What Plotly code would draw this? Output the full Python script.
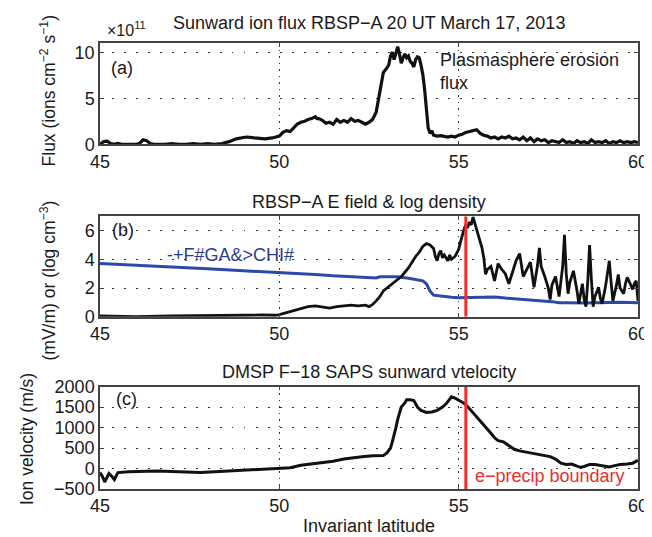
import plotly.graph_objects as go
from plotly.subplots import make_subplots

# ---------------- data ----------------
# Panel (a): sunward ion flux (x1e11 ions cm^-2 s^-1) vs invariant latitude
flux_lat = [45.0, 45.1, 45.2, 45.3, 45.4, 45.5, 45.6, 45.8, 46.0, 46.1, 46.2, 46.3, 46.4, 46.5,
            46.8, 47.0, 47.2, 47.4, 47.6, 47.8, 48.0, 48.2, 48.4, 48.6, 48.8, 49.0, 49.1, 49.3,
            49.6, 49.8, 50.0, 50.1, 50.2, 50.3, 50.4, 50.5, 50.6, 50.7, 50.8, 50.9, 51.0, 51.05,
            51.1, 51.2, 51.3, 51.4, 51.5, 51.6, 51.7, 51.8, 51.9, 52.0, 52.1, 52.2, 52.3, 52.4,
            52.5, 52.6, 52.7, 52.8, 52.9, 53.0, 53.05, 53.1, 53.15, 53.2, 53.25, 53.3, 53.35,
            53.4, 53.45, 53.5, 53.55, 53.6, 53.65, 53.7, 53.75, 53.8, 53.85, 53.9, 53.95, 54.0,
            54.05, 54.1, 54.15, 54.2, 54.25, 54.3, 54.4, 54.5, 54.6, 54.7, 54.8, 54.9, 55.0,
            55.1, 55.2, 55.3, 55.4, 55.5, 55.6, 55.7, 55.8, 55.9, 56.0, 56.1, 56.2, 56.3, 56.4,
            56.5, 56.6, 56.7, 56.8, 56.9, 57.0, 57.1, 57.2, 57.3, 57.4, 57.5, 57.6, 57.7, 57.8,
            57.9, 58.0, 58.1, 58.2, 58.3, 58.4, 58.5, 58.6, 58.7, 58.8, 58.9, 59.0, 59.1, 59.2,
            59.3, 59.4, 59.5, 59.6, 59.7, 59.8, 59.9, 60.0]
flux_val = [0.0, 0.3, 0.35, 0.1, 0.0, 0.1, 0.0, 0.0, 0.0, 0.1, 0.5, 0.4, 0.1, 0.0,
            0.0, 0.1, 0.0, 0.0, 0.1, 0.0, 0.1, 0.0, 0.1, 0.3, 0.6, 0.75, 0.8, 0.7,
            0.6, 0.7, 0.9, 1.3, 1.5, 1.4, 1.8, 2.2, 2.4, 2.5, 2.7, 2.8, 3.0, 2.8,
            2.8, 2.6, 2.3, 2.4, 2.2, 2.7, 2.4, 2.6, 2.4, 2.8, 2.5, 2.6, 2.4, 2.2,
            2.4, 2.7, 3.5, 5.5, 7.8, 8.3, 8.6, 9.6, 10.0, 9.2, 9.8, 10.6, 9.8,
            8.8, 9.4, 9.8, 9.4, 9.6, 9.0, 8.8, 8.4, 9.2, 9.5, 9.4, 8.6, 7.6,
            6.0, 3.7, 1.8, 1.2, 1.5, 1.0, 0.9, 0.95, 0.9, 0.8, 0.9, 0.8, 1.0,
            1.1, 1.3, 1.4, 1.5, 1.6, 1.2, 1.0, 0.9, 0.7, 0.8, 0.6, 0.8, 0.7, 0.9,
            0.6, 0.7, 0.5, 0.8, 0.4, 0.7, 0.3, 0.6, 0.4, 0.5, 0.2, 0.4, 0.3, 0.2,
            0.5, 0.2, 0.3, 0.1, 0.4, 0.2, 0.3, 0.1, 0.5, 0.2, 0.3, 0.2, 0.4, 0.1,
            0.3, 0.2, 0.4, 0.2, 0.3, 0.2, 0.3, 0.2]

# Panel (b): E field (mV/m), black
efield_lat = [45.0, 46.0, 47.0, 48.0, 48.5, 49.0, 49.5, 49.9, 50.0, 50.2, 50.4, 50.6, 50.8,
              51.0, 51.2, 51.4, 51.6, 51.8, 52.0, 52.2, 52.4, 52.5, 52.6, 52.7, 52.8, 52.9,
              53.0, 53.1, 53.2, 53.3, 53.4, 53.5, 53.6, 53.7, 53.8, 53.9, 54.0, 54.1, 54.2,
              54.3, 54.35, 54.4, 54.45, 54.5, 54.55, 54.6, 54.7, 54.75, 54.8, 54.9, 55.0,
              55.05, 55.1, 55.15, 55.2, 55.25, 55.3, 55.35, 55.4, 55.45, 55.5, 55.55, 55.6,
              55.65, 55.7, 55.75, 55.8, 55.9, 56.0, 56.05, 56.1, 56.2, 56.3, 56.4, 56.5,
              56.6, 56.7, 56.8, 56.9, 57.0, 57.1, 57.2, 57.25, 57.3, 57.4, 57.5, 57.55,
              57.6, 57.7, 57.8, 57.9, 57.95, 58.0, 58.05, 58.1, 58.2, 58.3, 58.35, 58.4,
              58.45, 58.5, 58.55, 58.6, 58.65, 58.7, 58.75, 58.8, 58.9, 58.95, 59.0, 59.1,
              59.2, 59.25, 59.3, 59.4, 59.45, 59.5, 59.6, 59.65, 59.7, 59.8, 59.85, 59.9,
              59.95, 60.0]
efield_val = [0.05, 0.0, 0.05, 0.05, 0.08, 0.1, 0.12, 0.1, 0.15, 0.3, 0.45, 0.6, 0.7,
              0.75, 0.65, 0.6, 0.7, 0.75, 0.8, 0.75, 0.8, 0.7, 0.85, 1.1, 1.4, 1.8,
              2.0, 2.2, 2.4, 2.6, 2.8, 3.1, 3.4, 3.8, 4.2, 4.5, 4.9, 5.1, 5.0,
              4.75, 4.2, 3.9, 4.4, 4.6, 4.1, 4.3, 3.9, 4.3, 4.0, 4.2, 4.7,
              5.2, 5.7, 6.1, 6.4, 6.2, 6.6, 6.4, 6.95, 6.5, 6.2, 5.8, 5.3,
              4.8, 4.1, 2.95, 3.3, 3.5, 2.5, 3.2, 3.7, 3.3, 3.0, 2.3, 3.1,
              3.9, 4.4, 2.8, 3.3, 3.8, 2.05, 3.6, 4.8, 3.5, 2.8, 2.0, 1.2,
              2.2, 2.8, 1.4, 3.5, 5.7, 3.0, 1.6, 2.4, 3.2, 1.8, 0.9, 1.6,
              2.3, 1.2, 0.7, 2.5, 5.0, 2.6, 0.7, 1.4, 2.05, 1.3, 0.9, 2.2,
              3.9, 2.4, 1.1, 2.2, 2.95, 2.0, 1.6, 2.3, 2.75, 2.2, 1.9, 2.3,
              2.5, 1.1]

# Panel (b): log density (log cm^-3), blue
dens_lat = [45.0, 46.0, 47.0, 48.0, 49.0, 50.0, 51.0, 51.5, 52.0, 52.5, 52.7, 52.8, 53.0,
            53.3, 53.6, 53.9, 54.0, 54.1, 54.2, 54.3, 54.5, 54.8, 55.0, 55.5, 56.0, 56.3,
            56.6, 57.0, 57.3, 57.6, 57.8, 58.0, 58.5, 59.0, 59.5, 60.0]
dens_val = [3.7, 3.6, 3.45, 3.35, 3.2, 3.1, 2.95, 2.85, 2.8, 2.75, 2.7, 2.78, 2.8,
            2.78, 2.68, 2.55, 2.5, 2.3, 1.8, 1.5, 1.42, 1.35, 1.32, 1.35, 1.38, 1.3,
            1.25, 1.2, 1.12, 1.05, 0.97, 0.98, 0.95, 0.98, 1.0, 0.97]

# Panel (c): DMSP F-18 sunward ion velocity (m/s)
vel_lat = [45.0, 45.07, 45.13, 45.2, 45.25, 45.32, 45.4, 45.45, 45.5, 45.8, 46.2, 46.6, 47.0,
           47.4, 47.8, 48.2, 48.6, 49.0, 49.5, 50.0, 50.3, 50.6, 50.9, 51.2, 51.5, 51.8,
           52.0, 52.3, 52.6, 52.9, 53.0, 53.1, 53.15, 53.2, 53.25, 53.3, 53.35, 53.4, 53.5,
           53.55, 53.65, 53.75, 53.85, 53.95, 54.1, 54.25, 54.4, 54.55, 54.65, 54.75, 54.8,
           54.9, 55.0, 55.1, 55.2, 55.3, 55.4, 55.5, 55.6, 55.7, 55.8, 55.9, 56.0, 56.1,
           56.25, 56.4, 56.55, 56.7, 57.0, 57.3, 57.55, 57.7, 57.85, 58.0, 58.15, 58.3,
           58.4, 58.5, 58.65, 58.8, 58.95, 59.1, 59.2, 59.35, 59.5, 59.7, 59.85, 60.0]
vel_val = [-100, -200, -330, -200, -120, -180, -270, -180, -100, -80, -70, -60, -70,
           -80, -100, -80, -60, -40, -20, 0, 20, 80, 110, 140, 180, 230,
           260, 290, 310, 320, 380, 500, 650, 800, 1000, 1200, 1350, 1500, 1600,
           1680, 1680, 1660, 1500, 1420, 1370, 1380, 1420, 1500, 1580, 1700, 1750,
           1720, 1680, 1620, 1560, 1460, 1370, 1280, 1180, 1080, 980, 860, 750, 680,
           650, 560, 470, 430, 380, 340, 290, 230, 130, 100, 110, 60,
           30, 50, 100, 100, 80, 60, 40, 70, 100, 110, 130, 200]

boundary_lat = 55.2
x_ticks = [45, 50, 55, 60]
flux_ticks = [0, 5, 10]
b_ticks = [0, 2, 4, 6]
vel_ticks = [-500, 0, 500, 1000, 1500, 2000]

# ---------------- figure ----------------
fig = make_subplots(rows=3, cols=1)

BLACK = "#111111"
BLUE = "#2b4aa8"
RED = "#f22a2a"

fig.add_trace(go.Scatter(x=flux_lat, y=flux_val, mode="lines",
                         line=dict(color=BLACK, width=3.2)), row=1, col=1)
fig.add_trace(go.Scatter(x=dens_lat, y=dens_val, mode="lines",
                         line=dict(color=BLUE, width=3)), row=2, col=1)
fig.add_trace(go.Scatter(x=efield_lat, y=efield_val, mode="lines",
                         line=dict(color=BLACK, width=2.8)), row=2, col=1)
fig.add_trace(go.Scatter(x=[boundary_lat, boundary_lat], y=[0, 7], mode="lines",
                         line=dict(color=RED, width=3)), row=2, col=1)
fig.add_trace(go.Scatter(x=vel_lat, y=vel_val, mode="lines",
                         line=dict(color=BLACK, width=3)), row=3, col=1)
fig.add_trace(go.Scatter(x=[boundary_lat, boundary_lat], y=[-500, 2000], mode="lines",
                         line=dict(color=RED, width=3)), row=3, col=1)

LEFT, RIGHT = 92, 632
TOTAL_TOP, TOTAL_BOT = 35, 488
H = TOTAL_BOT - TOTAL_TOP
W = RIGHT - LEFT


def dom(top, bot):
    return [(TOTAL_BOT - bot) / H, (TOTAL_BOT - top) / H]


def py(ypx):
    return (TOTAL_BOT - ypx) / H


def px_(xpx):
    return (xpx - LEFT) / W


FONT = "Liberation Sans, Arial, sans-serif"
base_axis = dict(showline=True, linecolor="#444444", linewidth=1.5, mirror="ticks",
                 ticks="inside", ticklen=4, tickcolor="#444444",
                 showgrid=True, gridcolor="#333333", gridwidth=1,
                 zeroline=False, tickfont=dict(family=FONT, size=18, color="#1a1a1a"))
x_axis = dict(base_axis, griddash="1.5px,5px")
y_axis = dict(base_axis, griddash="1.5px,10.5px")

for i, (top, bot) in enumerate([(35, 138), (211, 313), (384, 488)], start=1):
    fig.layout[f"yaxis{'' if i == 1 else i}"].domain = dom(top, bot)
    fig.update_xaxes(range=[45, 60], tickvals=x_ticks, row=i, col=1, **x_axis)

fig.update_yaxes(range=[0, 11], tickvals=flux_ticks, row=1, col=1, **y_axis)
fig.update_yaxes(range=[0, 7], tickvals=b_ticks, row=2, col=1, **y_axis)
fig.update_yaxes(range=[-500, 2000], tickvals=vel_ticks, row=3, col=1, **y_axis)
fig.update_xaxes(title=dict(text="Invariant latitude", font=dict(family=FONT, size=18, color="#1a1a1a"),
                            standoff=4), row=3, col=1)

ann = []
tfont = dict(family=FONT, size=18, color="#1a1a1a")
# panel titles
ann.append(dict(text="Sunward ion flux RBSP\u2212A 20 UT March 17, 2013", x=0.5, y=py(15),
                xref="paper", yref="paper", showarrow=False, font=tfont, xanchor="center", yanchor="middle"))
ann.append(dict(text="RBSP\u2212A E field &amp; log density", x=0.5, y=py(196),
                xref="paper", yref="paper", showarrow=False, font=tfont, xanchor="center", yanchor="middle"))
ann.append(dict(text="DMSP F\u221218 SAPS sunward vtelocity", x=0.5, y=py(369),
                xref="paper", yref="paper", showarrow=False, font=tfont, xanchor="center", yanchor="middle"))
# exponent
ann.append(dict(text="\u00d710<sup>11</sup>", x=px_(97), y=py(21), xref="paper", yref="paper",
                showarrow=False, font=dict(family=FONT, size=16, color="#1a1a1a"),
                xanchor="left", yanchor="middle"))
# y-axis titles
ytfont = dict(family=FONT, size=17.5, color="#1a1a1a")
ann.append(dict(text="Flux (ions cm<sup>\u22122</sup> s<sup>\u22121</sup>)", x=px_(40), y=py(84),
                xref="paper", yref="paper", showarrow=False, textangle=-90, font=ytfont,
                xanchor="center", yanchor="middle"))
ann.append(dict(text="(mV/m) or (log cm<sup>\u22123</sup>)", x=px_(40), y=py(276),
                xref="paper", yref="paper", showarrow=False, textangle=-90, font=ytfont,
                xanchor="center", yanchor="middle"))
ann.append(dict(text="Ion velocity (m/s)", x=px_(19), y=py(437),
                xref="paper", yref="paper", showarrow=False, textangle=-90, font=ytfont,
                xanchor="center", yanchor="middle"))
# panel letters
lfont = dict(family=FONT, size=18, color="#1a1a1a")
ann.append(dict(text="(a)", x=px_(101), y=py(60), xref="paper", yref="paper", showarrow=False,
                font=lfont, xanchor="left", yanchor="middle"))
ann.append(dict(text="(b)", x=px_(102), y=py(225), xref="paper", yref="paper", showarrow=False,
                font=lfont, xanchor="left", yanchor="middle"))
ann.append(dict(text="(c)", x=px_(106), y=py(397), xref="paper", yref="paper", showarrow=False,
                font=lfont, xanchor="left", yanchor="middle"))
# in-panel labels
ann.append(dict(text="Plasmasphere erosion<br>flux", x=px_(431), y=py(64), xref="paper", yref="paper",
                showarrow=False, align="left", font=dict(family=FONT, size=18, color="#1a1a1a"),
                xanchor="left", yanchor="middle"))
ann.append(dict(text="-+F#GA&amp;>CHI#", x=px_(157), y=py(250), xref="paper", yref="paper",
                showarrow=False, font=dict(family=FONT, size=18, color="#2b3d8e"),
                xanchor="left", yanchor="middle"))
ann.append(dict(text="e\u2212precip boundary", x=px_(466), y=py(475), xref="paper", yref="paper",
                showarrow=False, font=dict(family=FONT, size=18, color=RED),
                xanchor="left", yanchor="middle"))

fig.update_layout(width=652, height=537,
                  margin=dict(l=LEFT, r=652 - RIGHT, t=TOTAL_TOP, b=537 - TOTAL_BOT),
                  paper_bgcolor="white", plot_bgcolor="white", showlegend=False,
                  annotations=ann)

fig.write_html("out.html")
